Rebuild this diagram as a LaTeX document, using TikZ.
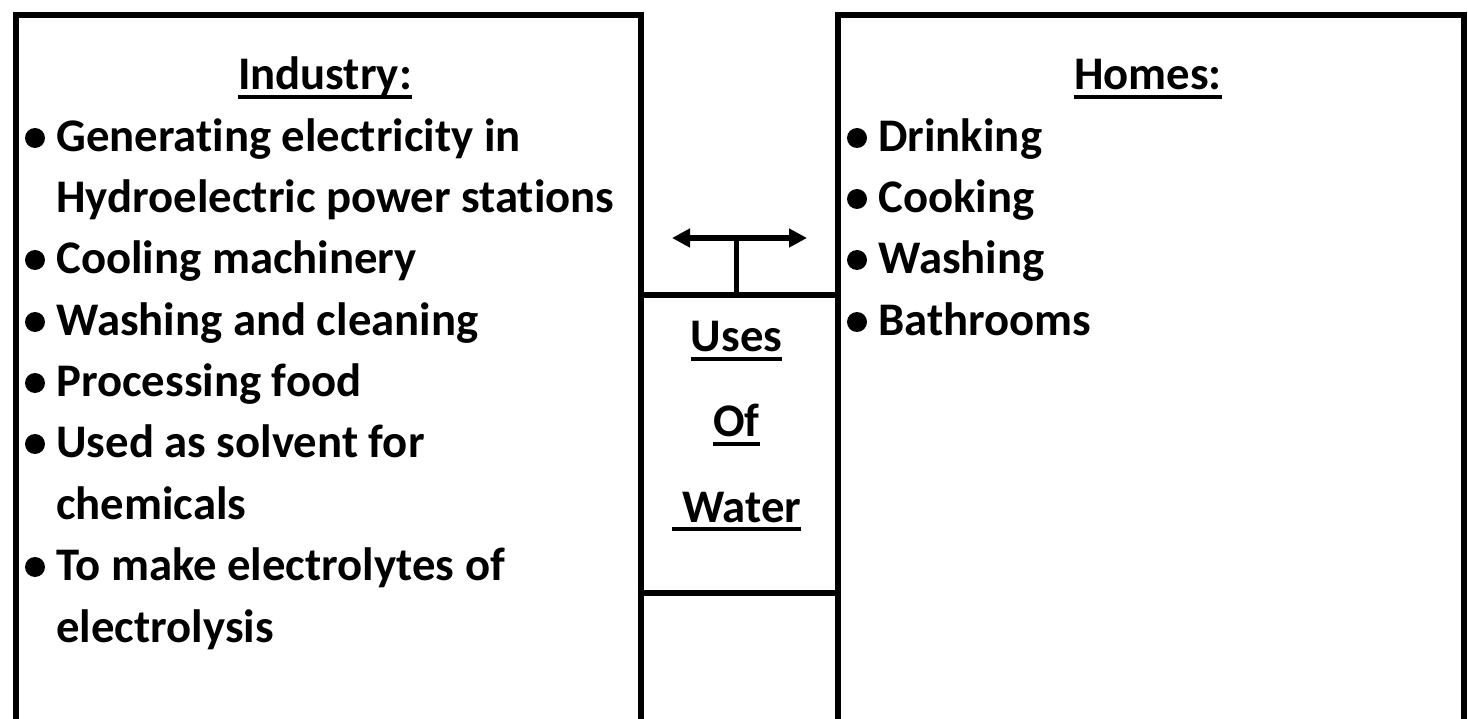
\documentclass[tikz,border=0pt]{standalone}
\usepackage{fontspec}
\setmainfont{Carlito}[Ligatures={NoCommon}]
\usetikzlibrary{arrows.meta, positioning, calc}

% underline set just below the baseline, as in the handout
\newcommand{\undl}[1]{\setbox0\hbox{#1}\rlap{\rule[-0.18cm]{\wd0}{0.08cm}}\box0}

\begin{document}
\begin{tikzpicture}[
    x=0.02cm, y=-0.02cm,
    every node/.style={font=\fontsize{26.6}{32}\selectfont\bfseries, inner sep=0pt},
    panel/.style={draw, line width=0.12cm, anchor=north west, minimum height=15cm},
    heading/.style={anchor=base},
    entry/.style={anchor=base west},
    dot/.style={circle, fill, minimum size=0.4cm},
    rule/.style={line width=0.12cm},
    link/.style={{Triangle[length=0.36cm, width=0.36cm]}-{Triangle[length=0.36cm, width=0.36cm]}, line width=0.12cm},
    stem/.style={line width=0.1cm}
]
    \useasboundingbox (0,0) rectangle (1468,719);
    \clip (0,0) rectangle (1468,719);

    % the three columns
    \node[panel, minimum width=12.5cm] (industry) at (13,12) {};
    \node[panel, minimum width=12.52cm] (homes) at (835,12) {};
    \node[minimum width=3.94cm, minimum height=5.96cm] (water) at (736.5,444) {};
    \draw[rule] (water.north west) -- (water.north east);
    \draw[rule] (water.south west) -- (water.south east);

    % left column
    \node[heading] (indtitle) at (325,90) {\undl{Industry:}};
    \node[entry] (i1) at (56,152) {Generating electricity in};
    \node[entry] (i2) at (56,213) {Hydroelectric power stations};
    \node[entry] (i3) at (56,274) {Cooling machinery};
    \node[entry] (i4) at (56,336) {Washing and cleaning};
    \node[entry] (i5) at (56,397) {Processing food};
    \node[entry] (i6) at (56,458) {Used as solvent for};
    \node[entry] (i7) at (56,520) {chemicals};
    \node[entry] (i8) at (56,581) {To make electrolytes of};
    \node[entry] (i9) at (56,642) {electrolysis};

    % right column
    \node[heading] (hometitle) at (1148,90) {\undl{Homes:}};
    \node[entry] (h1) at (878,152) {Drinking};
    \node[entry] (h2) at (878,213) {Cooking};
    \node[entry] (h3) at (878,274) {Washing};
    \node[entry] (h4) at (878,336) {Bathrooms};

    % bullets
    \foreach \n in {i1,i3,i4,i5,i6,i8,h1,h2,h3,h4}
        \node[dot] (b-\n) at ($(\n.base west)+(-21,-14)$) {};

    % middle label
    \node[heading] (uses) at (736.5,352) {\undl{Uses}};
    \node[heading] (of) at (736.5,437) {\undl{Of}};
    \node[heading] (wat) at (736.5,522) {\undl{\ Water}};

    % pointer to both columns
    \coordinate (aL) at (672,238);
    \coordinate (aR) at (807,238);
    \coordinate (tee) at (736.5,238);
    \draw[link] (aL) -- (aR);
    \draw[stem] (water.north) -- (tee);
\end{tikzpicture}
\end{document}
